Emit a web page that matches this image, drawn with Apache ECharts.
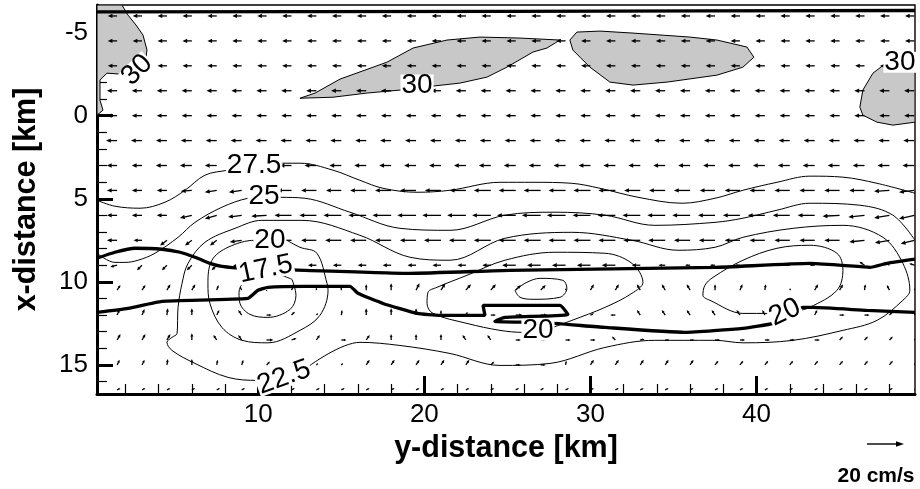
<!DOCTYPE html>
<html><head><meta charset="utf-8">
<script src="https://cdn.jsdelivr.net/npm/echarts@6/dist/echarts.min.js"></script>
<style>html,body{margin:0;padding:0;background:#fff}#c{width:920px;height:489px}</style>
</head><body><div id="c"></div>
<script>
// ---- axes ----
const yDistRange = [0.29, 49.54];
const xDistRange = [-6.66, 16.75];
const xMajorTicks = [10, 20, 30, 40];
const xMinorTicks = [2,4,6,8,12,14,16,18,22,24,26,28,32,34,36,38,42,44,46,48];
const yMajorTicks = [-5, 0, 5, 10, 15];
const yMinorTicks = [-6,-4,-3,-2,-1,1,2,3,4,6,7,8,9,11,12,13,14,16];

// ---- vector grid (y-distance columns, x-distance rows), velocities in cm/s ----
const colsY = [1.5,3,4.5,6,7.5,9,10.5,12,13.5,15,16.5,18,19.5,21,22.5,24,25.5,27,28.5,30,31.5,33,34.5,36,37.5,39,40.5,42,43.5,45,46.5,48,49.5];
const rowsX = [-6,-4.5,-3,-1.5,0,1.5,3,4.5,6,7.5,9,10.5,12,13.5,15,16.5];
const U = [
 [-5.5,-5.5,-5.5,-5.5,-5.5,-5.5,-5.5,-5.5,-5.5,-5.5,-5.5,-5.5,-5.5,-5.5,-5.5,-5.5,-5.5,-5.5,-5.5,-5.5,-5.5,-5.5,-5.5,-5.5,-5.5,-5.5,-5.5,-5.5,-5.5,-5.5,-5.5,-5.5,-5.5],
 [-5.5,-5.5,-5.5,-5.5,-5.5,-5.5,-5.5,-5.5,-5.5,-5.5,-5.5,-5.5,-5.5,-5.5,-5.5,-5.5,-5.5,-5.5,-5.5,-5.5,-5.5,-5.5,-5.5,-5.5,-5.5,-5.5,-5.5,-5.5,-5.5,-5.5,-5.5,-5.5,-5.5],
 [-5.5,-5.5,-5.5,-5.5,-5.5,-5.5,-5.5,-5.5,-5.5,-5.5,-5.5,-5.5,-5.5,-5.5,-5.5,-5.5,-5.5,-5.5,-5.5,-5.5,-5.5,-5.5,-5.5,-5.5,-5.5,-5.5,-5.5,-5.5,-5.5,-5.5,-5.5,-5.5,-5.5],
 [-6,-6,-6,-6,-6,-6,-6,-6,-6,-6,-6,-6,-6,-6,-6,-6,-6,-6,-6,-6,-6,-6,-6,-6,-6,-6,-6,-6,-6,-6,-6,-6,-6],
 [-6,-6,-6,-6,-6,-6,-6,-6,-6,-6,-6,-6,-6,-6,-6,-6,-6,-6,-6,-6,-6,-6,-6,-6,-6,-6,-6,-6,-6,-6,-6,-6,-6],
 [-6.5,-6.5,-6.5,-6.5,-6.5,-6.5,-6.5,-6.5,-6.5,-6.5,-6.5,-6.5,-6.5,-6.5,-6.5,-6.5,-6.5,-6.5,-6.5,-6.5,-6.5,-6.5,-6.5,-6.5,-6.5,-6.5,-6.5,-6.5,-6.5,-6.5,-6.5,-6.5,-6.5],
 [-6,-6,-6.5,-7,-7,-7,-7,-7,-7,-7,-7,-7,-7,-7,-7,-7,-7,-7,-7,-7,-7,-7,-7,-7,-7,-7,-7,-7,-7,-7,-7,-7,-7],
 [-6,-6,-6,-6.5,-7,-7.5,-8,-8.5,-9,-9,-9.5,-9.5,-9.5,-9.5,-9.5,-10,-10,-10,-10,-10,-10,-9.5,-9.5,-9.5,-9,-9,-9,-9,-9,-9,-9,-9,-9],
 [-6,-6,-6,-7,-7,-8,-9,-10,-10,-10.5,-10.5,-11,-11,-11,-11,-11,-11,-11,-11,-10.5,-10.5,-10.5,-10.5,-10.5,-10,-10,-10,-10,-10,-10,-9.5,-9,-9],
 [-6,-5,-4,-4,-4,-7,-8,-9,-9,-9.5,-9.5,-9.5,-9.5,-10,-10,-10,-10,-10,-10,-10,-10,-10,-10,-9.5,-9.5,-9,-9,-9,-9,-9,-9,-8.5,-8],
 [-4,-3,-3,-3,-3,-6,-6,-6,-5,-5,-5,-5,-5,-5,-5,-5,-8,-8,-8,-8,-8,-5,-4,-3,-3,-3,-3,-3,-3,-3,-3,-3,-3],
 [2,2,2,2,1,-1,0,1,0,0,0,0,2,2.5,3,3,3,3,0.5,2,2,-2,-2,-2,0,1.5,0.5,0.5,2,2,0.5,-1.5,2],
 [1.5,1.5,0.5,0,1.5,-2,3,2,1,0.5,0,0,0,0,1,3,4,4,2,2,-3,-2,-2,-2,-2,-2,-1.5,0,1.5,3,3,2,2],
 [2,2,2,0,-2,-2,4,3,2,3,2,0,0,0,-2,-2,3,3,3,3,-2,2.5,2.5,2.5,3,3,3,3,3,2,2,2,2],
 [1.5,1.5,0.5,0,0.5,1,2,2,1,1,2,2,2,2,2,2,3,3,0.5,2,2,2,2,2,2,2,2,2,2,2,2,2,2],
 [2,2,2,2,2,2,2,2,2,2,2,2,2,2,2,2,2,2,2,2,2,2,2,2,2,2,2,2,2,2,2,2,2]
];
const V = [
 [0,0,0,0,0,0,0,0,0,0,0,0,0,0,0,0,0,0,0,0,0,0,0,0,0,0,0,0,0,0,0,0,0],
 [0,0,0,0,0,0,0,0,0,0,0,0,0,0,0,0,0,0,0,0,0,0,0,0,0,0,0,0,0,0,0,0,0],
 [0,0,0,0,0,0,0,0,0,0,0,0,0,0,0,0,0,0,0,0,0,0,0,0,0,0,0,0,0,0,0,0,0],
 [0,0,0,0,0,0,0,0,0,0,0,0,0,0,0,0,0,0,0,0,0,0,0,0,0,0,0,0,0,0,0,0,0],
 [0,0,0,0,0,0,0,0,0,0,0,0,0,0,0,0,0,0,0,0,0,0,0,0,0,0,0,0,0,0,0,0,0],
 [0,0,0,0,0,0,0,0,0,0,0,0,0,0,0,0,0,0,0,0,0,0,0,0,0,0,0,0,0,0,0,0,0],
 [0,0,0,0,0,0,0,0,0,0,0,0,0,0,0,0,0,0,0,0,0,0,0,0,0,0,0,0,0,0,0,0,0],
 [0,0,0,0.5,1,1,0.5,0,0,0,0,0,0,0,0,0,0,0,0,0,0,0,0,0,0,0,0,0,0,0,0,0.5,1],
 [0,0,0,1.5,2,1,0.5,0,0,0,0,0,0,0,0,0,0,0,0,0,0,0,0,0,0,0,0,0,0,0.5,1,1.5,2],
 [0,0,3,3,3,1,0.5,0,0,0,0,0,0,0,0,0,0,0,0,0,0,0,0,0,0,0,0,0,0,0,1,1.5,2],
 [1,3,3,3,3,1,0.5,0,0,0,0,0,0,0,0,0,0,0,0,0,0,0,0,0,0,0,0,0,0,0,-2,-2,-1],
 [-3,-3,-3.5,-3.5,-3,-2,0.5,-2,-1.5,-2,-3.5,-4,-4,-4,-3.5,-3.5,-3,-3,-1,-3.5,-3.5,-3.5,-3.5,-3.5,-3.5,-3.5,-3.5,-1,-3.5,-3.5,-3.5,-3,-3],
 [-3.5,-3.5,-4,-4,-3,-3,0,-2,-1,-3,-4,-4,-4,-3,-2,0,0,0,-1,-1,0,-3,-3,-3,-3,-3,-3,-2,-3,0,0,-2,-2],
 [-3.5,-3.5,-3.5,-4,-3,-3,0,-1,-3,0,-3,-3.5,-3.5,-3.5,-3,-3,0,0,0,0,-2,-0.5,0,0,0,0,0,0,0,-2,-2,-2,-2],
 [-3,-3,-3.5,-3.5,-3,-3,-2,-2,-1,-1,-3,-3,-3,-3,-3,-2,0,0,-2.5,-3,-3,-3,-3,-3,-2.5,-2.5,-2.5,-2.5,-2.5,-2.5,-2.5,-2.5,-2.5],
 [-1,-1,-1,-1,-1,-1,-1,-1,-1,-1,-1,-1,-1,-1,-1,-1,-1,-1,-1,-1,-1,-1,-1,-1,-1,-1,-1,-1,-1,-1,-1,-1,-1]
];

// ---- contours [y-distance, x-distance] ----
const shaded30 = [
 [[0.29,-6.66],[1.79,-6.66],[2.16,-6.05],[2.64,-5.45],[3.06,-4.85],[3.30,-3.95],[3.24,-3.52],[2.58,-2.86],[1.67,-2.50],[0.89,-2.56],[0.47,-2.14],[0.47,-0.93],[0.65,-0.33],[0.29,-0.03]],
 [[12.51,-1.05],[13.42,-1.36],[14.92,-2.20],[17.75,-3.22],[19.32,-4.07],[21.36,-4.55],[23.35,-4.73],[25.76,-4.67],[28.16,-4.55],[27.38,-4.07],[26.54,-3.83],[24.97,-2.92],[23.77,-2.32],[22.14,-1.96],[20.52,-1.78],[18.53,-1.54],[16.54,-1.36],[14.50,-1.11]],
 [[29.18,-5.03],[30.57,-5.09],[32.56,-4.97],[35.99,-4.73],[37.62,-4.55],[39.42,-4.13],[39.84,-3.52],[39.18,-2.92],[37.62,-2.44],[34.61,-2.02],[32.56,-1.84],[31.17,-2.02],[29.97,-2.92],[28.94,-3.95],[28.76,-4.55]],
 [[49.54,-3.34],[48.03,-3.34],[47.01,-2.56],[46.40,-1.54],[46.22,-0.51],[46.40,-0.03],[47.25,0.39],[48.21,0.57],[49.54,0.39]]
];
const c275 = [[0.29,5.09],[1.37,5.45],[2.88,5.57],[4.38,5.21],[5.59,4.49],[6.79,3.58],[8.18,3.28],[9.8,3.0],[11.31,2.86],[12.51,2.86],[14.50,3.28],[16.12,3.89],[17.51,4.37],[19.56,4.61],[21.54,4.49],[24.55,4.01],[26.54,4.01],[28.88,4.07],[30.57,4.37],[32.86,4.91],[35.51,5.27],[37.50,4.97],[39.18,4.49],[41.23,4.01],[43.21,3.64],[45.20,3.70],[47.25,4.07],[49.54,4.67]];
const c25 = [[0.29,8.28],[1.37,8.83],[1.97,8.83],[2.76,8.70],[3.78,8.28],[5.17,7.32],[6.19,6.42],[7.81,5.51],[9.38,4.97],[10.35,4.9],[11.31,4.91],[12.81,4.97],[15.52,5.81],[18.53,6.78],[21.54,6.90],[24.85,5.99],[27.86,5.81],[30.87,5.99],[33.88,6.60],[37.50,6.42],[39.18,6.17],[41.23,5.69],[43.21,5.27],[46.22,5.39],[48.21,5.99],[49.54,7.50]];
const c225 = [[13.11,15.03],[16.12,13.64],[18.53,13.83],[21.54,14.31],[24.55,15.03],[27.56,14.91],[30.87,13.95],[33.88,13.52],[37.50,13.52],[39.18,13.67],[42.19,13.52],[45.20,12.92],[47.25,12.32],[48.81,11.11],[49.23,10.51],[48.81,8.89],[47.61,7.32],[45.20,6.60],[42.19,6.78],[39.18,7.32],[37.50,7.92],[35.27,8.10],[32.50,7.50],[28.88,7.02],[24.85,7.38],[21.54,8.70],[19.13,8.52],[16.12,7.20],[12.63,6.30],[10.22,6.30],[8.60,6.78],[6.79,7.62],[5.77,8.89],[5.41,10.09],[5.17,11.54],[5.11,13.10],[4.81,13.34],[4.50,13.64],[4.81,14.13],[6.19,14.91],[8.18,15.75],[9.98,15.93],[11.55,15.75],[13.11,15.03]];
const c20a = [[11.73,7.50],[12.51,7.92],[13.53,8.28],[14.14,10.09],[14.20,10.51],[13.71,12.02],[12.51,12.92],[10.58,13.67],[9.02,13.52],[7.81,12.74],[7.09,11.30],[6.97,10.09],[7.21,8.70],[8.18,7.92],[9.80,7.50],[11.73,7.50]];
const c175a = [[12.03,9.85],[12.27,10.81],[11.91,11.66],[10.58,12.14],[9.50,11.96],[8.90,11.30],[8.84,10.63],[9.14,10.03],[10.5,9.4],[12.03,9.85]];
const c20b = [[27.74,12.74],[28.88,12.32],[30.87,11.54],[32.50,10.69],[33.16,10.03],[32.50,8.89],[30.87,8.28],[27.86,8.22],[24.85,8.70],[22.56,9.61],[20.76,10.33],[20.22,10.63],[20.16,11.30],[20.52,11.90],[22.56,12.50],[24.55,12.92],[25.94,13.04],[27.74,12.74]];
const c175b = [[25.45,10.51],[26.17,10.03],[26.96,9.79],[28.34,9.91],[28.58,10.39],[28.16,10.93],[26.54,11.05],[25.76,10.93],[25.45,10.51]];
const c20c = [[42.62,11.72],[43.21,11.54],[44.84,10.51],[45.20,9.31],[44.84,8.28],[43.21,7.80],[41.23,7.98],[39.18,8.70],[37.38,9.73],[36.89,10.21],[36.77,10.81],[37.19,11.11],[39.18,11.90],[40.81,11.90],[42.62,11.72]];
const thinContours = [c275, c25, c225, c20a, c175a, c20b, c175b, c20c];
// thick lines (second field)
const thickTop = [[0.29,-6.25],[25,-6.28],[49.54,-6.33]];
const thickA = [[0.29,8.58],[1.37,8.22],[2.58,7.98],[4.20,8.04],[5.29,8.22],[6.19,8.52],[7.09,8.89],[7.81,9.07],[9.20,9.19],[12.81,9.31],[19.13,9.49],[25.15,9.31],[37.50,9.13],[43.21,8.89],[45.20,9.01],[46.83,9.13],[47.85,8.89],[49.54,8.64]];
const thickB = [[0.29,11.84],[2.16,11.60],[4.20,11.17],[9.38,10.99],[9.98,10.51],[10.58,10.33],[12.81,10.27],[15.52,10.27],[16.00,10.69],[17.51,11.30],[19.56,11.90],[20.94,12.02],[23.65,12.02],[23.53,11.42],[28.16,11.42],[28.64,11.96],[24.85,12.14],[24.25,12.38],[26.96,12.44],[30.87,12.74],[35.69,13.04],[39.18,12.80],[40.99,12.50],[41.41,12.14],[42.01,12.02],[42.80,11.54],[43.39,11.54],[46.65,11.72],[49.54,11.84]];
const thickContours = [thickTop, thickA, thickB];
// contour labels: text, y-distance, x-distance, rotation
const labelText = ['30','30','30','27.5','25','20','17.5','22.5','20','20'];
const labelY = [2.70, 19.56, 48.63, 9.75, 10.35, 10.70, 10.45, 11.55, 26.84, 41.71];
const labelX = [-2.74, -1.84, -3.22, 2.98, 4.88, 7.50, 9.25, 15.75, 12.92, 11.84];
const labelRot = [45, 0, 0, 0, 0, 0, 12, 20, 0, 25];

const FONT = '"Liberation Sans", Arial, Helvetica, sans-serif';
const KM_PER_CMS = 0.1024;

const vecData = [];
rowsX.forEach((x, j) => colsY.forEach((y, i) => vecData.push([y, x, U[j][i], V[j][i]])));

function arrowItem(params, api) {
  const y = api.value(0), x = api.value(1), u = api.value(2), v = api.value(3);
  const p0 = api.coord([y, x]);
  const p1 = api.coord([y + u * KM_PER_CMS, x + v * KM_PER_CMS]);
  const dx = p1[0] - p0[0], dy = p1[1] - p0[1];
  const L = Math.hypot(dx, dy);
  if (L < 0.5) return null;
  const ux = dx / L, uy = dy / L;
  const hl = Math.min(4.8, L * 0.5), hw = hl * 0.45;
  const bx = p1[0] - ux * hl, by = p1[1] - uy * hl;
  return {type: 'group', children: [
    {type: 'line', shape: {x1: p0[0], y1: p0[1], x2: bx + ux * 0.5, y2: by + uy * 0.5}, style: {stroke: '#000', lineWidth: 1.3}},
    {type: 'polygon', shape: {points: [[p1[0], p1[1]], [bx - uy * hw, by + ux * hw], [bx + uy * hw, by - ux * hw]]}, style: {fill: '#000'}}
  ]};
}
function shadeItem(params, api) {
  const pts = shaded30[params.dataIndex].map(p => api.coord(p));
  return {type: 'polygon', shape: {points: pts}, style: {fill: '#c8c8c8', stroke: '#000', lineWidth: 1}};
}

const series = [];
series.push({type: 'custom', renderItem: shadeItem, clip: true, z: 1, silent: true,
  data: shaded30.map(r => r[0]), encode: {x: 0, y: 1}});
thinContours.forEach(c => series.push({type: 'line', data: c, symbol: 'none', smooth: 0.35, z: 2, silent: true,
  lineStyle: {color: '#000', width: 1}}));
thickContours.forEach(c => series.push({type: 'line', data: c, symbol: 'none', smooth: 0.15, z: 3, silent: true,
  lineStyle: {color: '#000', width: 3.3}}));
series.push({type: 'custom', renderItem: arrowItem, clip: true, z: 4, silent: true, data: vecData,
  dimensions: ['y', 'x', 'u', 'v'], encode: {x: 0, y: 1}});
series.push({type: 'scatter', z: 6, silent: true, symbolSize: 1, itemStyle: {color: '#fff'},
  data: labelText.map((t, i) => ({value: [labelY[i], labelX[i]], name: t,
    label: {show: true, position: 'inside', formatter: '{b}', rotate: labelRot[i]}})),
  label: {color: '#000', opacity: 1, textBorderWidth: 0, fontSize: 28, fontFamily: FONT, backgroundColor: '#fff', padding: [0, 1, -3, 1], lineHeight: 24}});

const chart = echarts.init(document.getElementById('c'), null, {renderer: 'canvas'});
chart.setOption({
  animation: false,
  backgroundColor: '#fff',
  grid: {left: 97, top: 5, width: 818, height: 389, show: true, borderColor: '#000', borderWidth: 1.4, backgroundColor: 'transparent'},
  xAxis: [
    {type: 'value', min: yDistRange[0], max: yDistRange[1], position: 'bottom',
     name: 'y-distance [km]', nameLocation: 'middle', nameGap: 32,
     nameTextStyle: {fontSize: 30.5, fontWeight: 'bold', fontFamily: FONT, color: '#000'},
     axisLine: {show: true, onZero: false, lineStyle: {color: '#000', width: 3}},
     axisTick: {show: true, inside: true, length: 18, lineStyle: {color: '#000', width: 3}, customValues: xMajorTicks},
     axisLabel: {show: true, customValues: xMajorTicks, fontSize: 26, fontFamily: FONT, color: '#000', margin: 8},
     splitLine: {show: false}},
    {type: 'value', min: yDistRange[0], max: yDistRange[1], position: 'bottom',
     axisLine: {show: false, onZero: false},
     axisTick: {show: true, inside: true, length: 10, lineStyle: {color: '#000', width: 1.2}, customValues: xMinorTicks},
     axisLabel: {show: false}, splitLine: {show: false}}
  ],
  yAxis: [
    {type: 'value', min: xDistRange[0], max: xDistRange[1], inverse: true, position: 'left',
     name: 'x-distance [km]', nameLocation: 'middle', nameGap: 55, nameRotate: 90,
     nameTextStyle: {fontSize: 30.5, fontWeight: 'bold', fontFamily: FONT, color: '#000'},
     axisLine: {show: true, onZero: false, lineStyle: {color: '#000', width: 3}},
     axisTick: {show: true, inside: true, length: 16, lineStyle: {color: '#000', width: 3}, customValues: yMajorTicks},
     axisLabel: {show: true, customValues: yMajorTicks, fontSize: 26, fontFamily: FONT, color: '#000', margin: 9},
     splitLine: {show: false}},
    {type: 'value', min: xDistRange[0], max: xDistRange[1], inverse: true, position: 'left',
     axisLine: {show: false, onZero: false},
     axisTick: {show: true, inside: true, length: 10, lineStyle: {color: '#000', width: 1.2}, customValues: yMinorTicks},
     axisLabel: {show: false}, splitLine: {show: false}}
  ],
  graphic: [
    {type: 'line', shape: {x1: 867, y1: 444, x2: 898, y2: 444}, style: {stroke: '#000', lineWidth: 1.4}},
    {type: 'polygon', shape: {points: [[904, 444], [896, 441.3], [896, 446.7]]}, style: {fill: '#000'}},
    {type: 'text', x: 876, y: 476, style: {text: '20 cm/s', font: 'bold 21px ' + FONT, fill: '#000', align: 'center', verticalAlign: 'middle'}}
  ],
  series: series
});
</script></body></html>
